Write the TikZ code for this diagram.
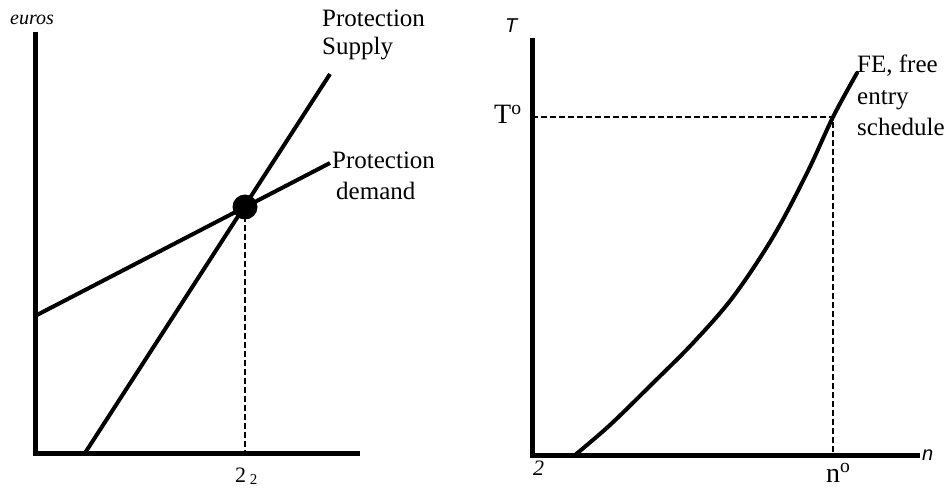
\documentclass[tikz,border=0pt]{standalone}
\usepackage{fontspec}
\setmainfont{Liberation Serif}
\newfontfamily\arialfont{Liberation Sans}
\begin{document}
\begin{tikzpicture}[x=1pt,y=-1pt,
  axis/.style={line width=5pt,line join=miter},
  curveline/.style={line width=4pt},
  guide/.style={line width=1.8pt,dash pattern=on 6pt off 3pt},
  lbl/.style={inner sep=0pt,anchor=base west,font=\fontsize{25}{29}\selectfont},
  biglbl/.style={inner sep=0pt,anchor=base west,font=\fontsize{28}{32}\selectfont},
  axlbl/.style={inner sep=0pt,anchor=base west,font=\arialfont\itshape\fontsize{20}{24}\selectfont}]
\useasboundingbox (0,0) rectangle (948,489);
% ---------- left panel ----------
\coordinate (Lt) at (35,32);
\coordinate (Lo) at (35,453);
\coordinate (Lr) at (360,453);
\draw[axis] (Lt) -- (Lo) -- (Lr);
\coordinate (s0) at (85,453);
\coordinate (s1) at (330,74);
\coordinate (d0) at (35,316);
\coordinate (d1) at (330,163);
\draw[curveline] (s0) -- (s1);
\draw[curveline] (d0) -- (d1);
\coordinate (eq) at (245,207);
\coordinate (eqb) at (245,453);
\draw[guide] (eq) -- (eqb);
\node[circle,fill=black,minimum size=25pt,inner sep=0pt] (dot) at (eq) {};
\node[inner sep=0pt,anchor=base west,font=\itshape\fontsize{20}{24}\selectfont] (euros) at (10,25) {euros};
\node[lbl] (ps1) at (322,27) {Protection};
\node[lbl] (ps2) at (322,55) {Supply};
\node[lbl] (pd1) at (332,169) {Protection};
\node[lbl] (pd2) at (336,200) {demand};
\node[inner sep=0pt,anchor=base west,font=\fontsize{22}{26}\selectfont] (q2) at (235,482) {2\,\raisebox{-0.2ex}{\fontsize{15}{18}\selectfont 2}};
\node[inner sep=0pt,anchor=base west,font=\itshape\fontsize{22}{26}\selectfont] (qax) at (533,475) {2};
% ---------- right panel ----------
\coordinate (Rt) at (532,38);
\coordinate (Ro) at (532,455);
\coordinate (Rr) at (920,455);
\draw[axis] (Rt) -- (Ro) -- (Rr);
\coordinate (To) at (532,117);
\coordinate (E) at (833,117);
\coordinate (nb) at (833,455);
\draw[guide] (To) -- (E) -- (nb);
\draw[curveline,line cap=round] plot[smooth,tension=0.55] coordinates {(575,455) (610,425) (653,383) (693,343) (733,297) (773,237) (807,173) (833,117) (857,73)};
\node[axlbl] (Tax) at (505,33) {T};
\node[axlbl] (nax) at (922,460) {n};
\node[biglbl] (Tlab) at (494,124) {T\textsuperscript{o}};
\node[biglbl] (nlab) at (826,482) {n\textsuperscript{o}};
\node[lbl] (fe1) at (857,73) {FE, free};
\node[lbl] (fe2) at (857,105) {entry};
\node[lbl] (fe3) at (857,136) {schedule};
\end{tikzpicture}
\end{document}
